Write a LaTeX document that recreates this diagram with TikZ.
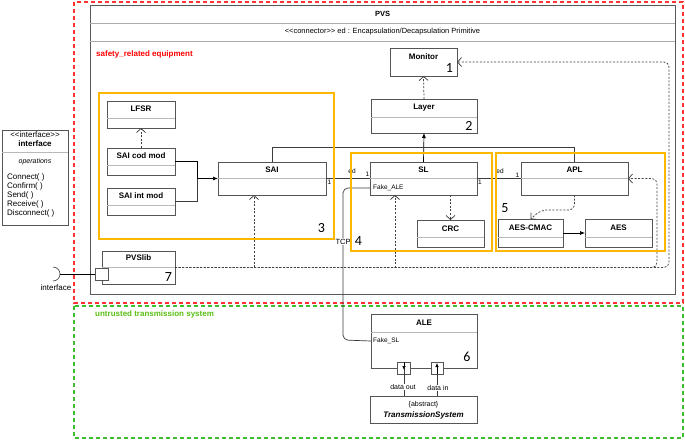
\documentclass[tikz,border=0pt]{standalone}
\usepackage{fontspec}
\setmainfont{Liberation Sans}
\newfontfamily\numfont{Carlito}
\usetikzlibrary{arrows.meta,calc}
\definecolor{boxc}{RGB}{85,85,85}
\definecolor{linec}{RGB}{60,60,60}
\definecolor{orangec}{RGB}{255,184,0}
\definecolor{redc}{RGB}{255,51,51}
\definecolor{redt}{RGB}{255,0,0}
\definecolor{greenc}{RGB}{60,190,50}
\definecolor{greent}{RGB}{90,190,20}
\definecolor{depc}{RGB}{65,65,65}
\begin{document}
\begin{tikzpicture}[x=1pt,y=-1pt,
  box/.style={draw=boxc, line width=0.7pt, fill=white, inner sep=0pt, outer sep=0pt},
  ttl/.style={font=\bfseries\fontsize{8}{9}\selectfont, inner sep=0pt},
  txt/.style={font=\fontsize{7.5}{9}\selectfont, inner sep=0pt},
  sml/.style={font=\fontsize{6.5}{7}\selectfont, inner sep=0pt},
  num/.style={font=\numfont\fontsize{14}{14}\selectfont, inner sep=0pt},
  divline/.style={draw=gray!55, line width=0.6pt},
  orangebox/.style={draw=orangec, line width=1.6pt},
  dep/.style={draw=depc, line width=0.75pt, dash pattern=on 2pt off 1.6pt, -{Straight Barb[length=4pt,width=9pt]}},
  assoc/.style={draw=linec, line width=0.7pt},
  solidarrow/.style={draw=black, line width=0.7pt, -{Latex[length=5pt,width=4pt]}},
  reddash/.style={draw=redc, line width=1.3pt, dash pattern=on 4pt off 3pt},
  greendash/.style={draw=greenc, line width=1.3pt, dash pattern=on 4pt off 3pt},
  lbl/.style={font=\fontsize{7}{8}\selectfont, inner sep=0.6pt, fill=white},
]
\useasboundingbox (0,0) rectangle (685,440);
\fill[white] (0,0) rectangle (685,440);

% outer containers
\draw[reddash] (74,2) rectangle (683,303);
\draw[greendash] (74,306) rectangle (683,438);

\node[box, draw=gray!70!black, line width=0.9pt, fill=none, minimum width=585pt, minimum height=289pt] (pvs) at (382.5,149.5) {};
\draw[divline, draw=gray!65] (pvs.west |- 0,23) -- (pvs.east |- 0,23);
\draw[divline, draw=gray!65] (pvs.west |- 0,41) -- (pvs.east |- 0,41);
\node[ttl, font=\bfseries\fontsize{7.5}{9}\selectfont] (tpvs) at (382.5,14) {PVS};
\node[txt] (tconn) at (382.5,32) {\textless{}\textless{}connector\textgreater{}\textgreater{} ed : Encapsulation/Decapsulation Primitive};
\node[ttl, text=redt, anchor=west] (tsafety) at (96,54) {safety\_related equipment};
\node[ttl, text=greent, anchor=west] (tuntrusted) at (95,314) {untrusted transmission system};

% interface box
\node[box, minimum width=66pt, minimum height=95pt] (iface) at (35,177.5) {};
\draw[divline] (iface.west |- 0,152) -- (iface.east |- 0,152);
\node[txt, font=\fontsize{8}{9}\selectfont] (tiface1) at (35,135) {\textless{}\textless{}interface\textgreater{}\textgreater{}};
\node[ttl] (tiface2) at (35,143.5) {interface};
\node[txt, font=\itshape\fontsize{7}{8}\selectfont] (tops) at (35,162) {operations};
\node[txt, font=\fontsize{8}{9}\selectfont, align=left, anchor=north west] (topslist) at (7,173.5) {Connect( )\\Confirm( )\\Send( )\\Receive( )\\Disconnect( )};

% class boxes
\node[box, minimum width=67pt, minimum height=28pt] (monitor) at (423.5,62) {};
\node[ttl] (tmonitor) at ($(monitor.north)+(0,8.5)$) {Monitor};
\node[num] (n1) at (449.5,68) {1};

\node[box, minimum width=106pt, minimum height=34pt] (layer) at (424,116) {};
\draw[divline] (layer.west |- 0,117) -- (layer.east |- 0,117);
\node[ttl] (tlayer) at ($(layer.north)+(0,9)$) {Layer};
\node[num] (n2) at (469,125.5) {2};

\node[box, minimum width=68pt, minimum height=27pt] (lfsr) at (141,114.5) {};
\draw[divline] (lfsr.west |- 0,118) -- (lfsr.east |- 0,118);
\node[ttl] (tlfsr) at ($(lfsr.north)+(0,8)$) {LFSR};

\node[box, minimum width=68pt, minimum height=27pt] (codmod) at (141,161.5) {};
\draw[divline] (codmod.west |- 0,165) -- (codmod.east |- 0,165);
\node[ttl] (tcodmod) at ($(codmod.north)+(0,8)$) {SAI cod mod};

\node[box, minimum width=68pt, minimum height=27pt] (intmod) at (141,201.5) {};
\draw[divline] (intmod.west |- 0,205) -- (intmod.east |- 0,205);
\node[ttl] (tintmod) at ($(intmod.north)+(0,8)$) {SAI int mod};

\node[box, minimum width=108pt, minimum height=33pt] (sai) at (272,178.5) {};
\draw[divline] (sai.west) -- (sai.east);
\node[ttl] (tsai) at ($(sai.north)+(0,8)$) {SAI};

\node[box, minimum width=107pt, minimum height=33pt] (sl) at (423.5,178.5) {};
\draw[divline] (sl.west) -- (sl.east);
\node[ttl] (tsl) at ($(sl.north)+(0,8)$) {SL};
\node[sml, anchor=west] (fakeale) at (373,188) {Fake\_ALE};

\node[box, minimum width=107pt, minimum height=33pt] (apl) at (574.5,178.5) {};
\draw[divline] (apl.west) -- (apl.east);
\node[ttl] (tapl) at ($(apl.north)+(0,8)$) {APL};

\node[box, minimum width=67pt, minimum height=27pt] (crc) at (450.5,233.5) {};
\draw[divline] (crc.west |- 0,237) -- (crc.east |- 0,237);
\node[ttl] (tcrc) at ($(crc.north)+(0,8.5)$) {CRC};

\node[box, minimum width=65pt, minimum height=28pt] (aescmac) at (530.5,233) {};
\draw[divline] (aescmac.west |- 0,237) -- (aescmac.east |- 0,237);
\node[ttl] (taescmac) at ($(aescmac.north)+(0,8.5)$) {AES-CMAC};

\node[box, minimum width=67pt, minimum height=28pt] (aes) at (618.5,233) {};
\draw[divline] (aes.west |- 0,237) -- (aes.east |- 0,237);
\node[ttl] (taes) at ($(aes.north)+(0,8.5)$) {AES};

\node[box, minimum width=73pt, minimum height=33pt] (pvslib) at (138.5,267.5) {};
\draw[divline] (pvslib.west |- 0,267) -- (pvslib.east |- 0,267);
\node[ttl] (tpvslib) at ($(pvslib.north)+(0,7)$) {PVSlib};
\node[num] (n7) at (168.5,277) {7};

\node[box, minimum width=106pt, minimum height=54pt] (ale) at (424,341) {};
\draw[divline] (ale.west |- 0,332) -- (ale.east |- 0,332);
\node[ttl] (tale) at ($(ale.north)+(0,8.5)$) {ALE};
\node[sml, anchor=west] (fakesl) at (373,341) {Fake\_SL};
\node[num] (n6) at (467,357) {6};

\node[box, minimum width=107pt, minimum height=27pt] (ts) at (423.5,409.5) {};
\node[txt, font=\fontsize{7}{8}\selectfont] (tabstract) at (423.5,405) {\{abstract\}};
\node[ttl, font=\bfseries\itshape\fontsize{8}{9}\selectfont] (tts) at (423.5,415) {TransmissionSystem};

% ports
\node[box, minimum width=13pt, minimum height=12pt] (port) at (101.5,274) {};
\node[box, minimum width=13pt, minimum height=12pt] (pout) at (404,368) {};
\node[box, minimum width=12pt, minimum height=12pt] (pin) at (437,368) {};

% connectors
\draw[dep] (layer.north) -- (monitor.south);
\draw[solidarrow] (sl.north) -- (layer.south);
\draw[assoc] (sai.north) -- ++(0,-15) -| (apl.north);
\coordinate (junc) at (197,178.5);
\draw[solidarrow] (codmod.east) -| (junc) -- (sai.west);
\draw[assoc] (intmod.east) -| (junc);
\draw[dep] (codmod.north) -- (lfsr.south);

\draw[assoc] (sai.east) -- (sl.west);
\node[sml] (m1) at (329.5,182) {1};
\node[sml] (ed1) at (352,171) {ed};
\node[sml] (m2) at (367.5,174) {1};
\draw[assoc] (sl.east) -- (apl.west);
\node[sml] (m3) at (480,182) {1};
\node[sml] (ed2) at (500,171) {ed};
\node[sml] (m4) at (517.5,175) {1};

\draw[dep] (crc.north |- sl.south) -- (crc.north);
\draw[dep, rounded corners=6pt] (apl.south) |- (541,210) -- (aescmac.north);
\draw[solidarrow] (aescmac.east) -- (aes.west);

\draw[assoc, rounded corners=5pt] (sl.west |- fakeale) -- (343,188) -- (343,340) -- (ale.west |- fakesl);
\node[lbl, font=\fontsize{7.5}{8}\selectfont] (tcp) at (343,241.5) {TCP};

% PVSlib dependencies
\coordinate (rA) at (657,0);
\coordinate (rM) at (669,0);
\draw[dep] (pvslib.east) -| ($(sai.south)+(-18,0)$);
\draw[dep] (pvslib.east) -| ($(sl.south)+(-28.5,0)$);
\draw[dep, rounded corners=5pt] (pvslib.east) -- (pvslib.east -| rA) -- (apl.east -| rA) -- (apl.east);
\draw[dep, rounded corners=5pt] (pvslib.east) -- (pvslib.east -| rM) -- (monitor.east -| rM) -- (monitor.east);

% provided / required interface
\coordinate (reqtip) at (60,274);
\draw[boxc, line width=0.7pt] (53,281) arc[start angle=90, end angle=-90, radius=7];
\draw[assoc, draw=black] (reqtip) -- (port.west);
\node[txt, font=\fontsize{8}{9}\selectfont] (tinterface) at (56,287.5) {interface};

% ALE ports to TransmissionSystem
\draw[assoc] (pout.center) -- (pout.center |- ts.north);
\draw[draw=black, line width=0.6pt, -{Latex[length=4pt,width=3.5pt]}] (pout.north) -- ($(pout.north)+(0,8)$);
\draw[assoc] (pin.center) -- (pin.center |- ts.north);
\draw[draw=black, line width=0.6pt, -{Latex[length=4pt,width=3.5pt]}] (pin.south) -- ($(pin.north)+(0,1)$);
\node[lbl] (tdout) at (403,387) {data out};
\node[lbl] (tdin) at (438,388) {data in};

% orange groups
\draw[orangebox] (99,93) rectangle (334,239);
\draw[orangebox] (351,153) rectangle (492,251);
\draw[orangebox] (496,153) rectangle (665,251);
\node[num] (n3) at (321.5,228) {3};
\node[num] (n4) at (358.5,240.5) {4};
\node[num] (n5) at (505,208) {5};
\end{tikzpicture}
\end{document}
